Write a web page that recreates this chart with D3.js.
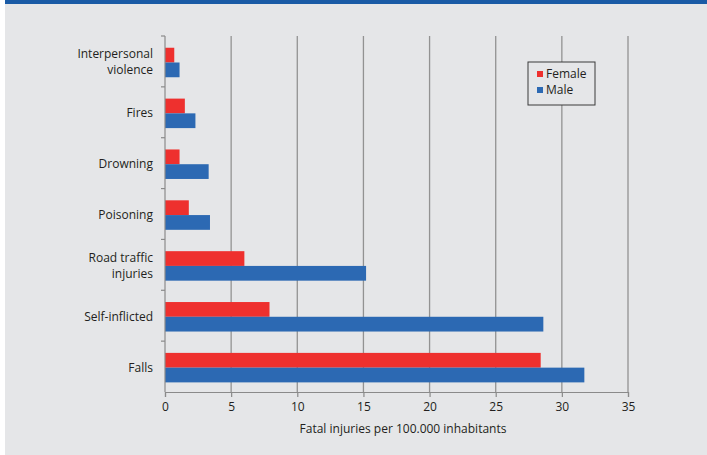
<!DOCTYPE html>
<html>
<head>
<meta charset="utf-8">
<script src="https://cdn.jsdelivr.net/npm/d3@7"></script>
<style>
  body { margin: 0; background: #fff; }
  svg { display: block; font-family: "Open Sans", "DejaVu Sans", sans-serif; }
</style>
</head>
<body>
<div id="chart"></div>
<script>
// categories, top to bottom
const categories = ["Interpersonal violence", "Fires", "Drowning", "Poisoning", "Road traffic injuries", "Self-inflicted", "Falls"]
const labelLines = [["Interpersonal", "violence"], ["Fires"], ["Drowning"], ["Poisoning"], ["Road traffic", "injuries"], ["Self-inflicted"], ["Falls"]]
const female = [0.7, 1.5, 1.1, 1.8, 6.0, 7.9, 28.4]
const male = [1.1, 2.3, 3.3, 3.4, 15.2, 28.6, 31.7]
const series = ["Female", "Male"]
const xTicks = [0, 5, 10, 15, 20, 25, 30, 35]

const colors = { Female: "#ee302e", Male: "#2c69b3" }

const width = 707, height = 455
const margin = { top: 36, right: 79, bottom: 63, left: 165 }

let svg = d3.select("#chart").append("svg")
  .attr("width", width)
  .attr("height", height)

// background panel and top banner
svg.append("rect").attr("x", 5).attr("y", 0).attr("width", width - 5).attr("height", height).attr("fill", "#e5e6e8")
svg.append("rect").attr("x", 5).attr("y", 0).attr("width", width - 5).attr("height", 4).attr("fill", "#1a5ba6")

let x = d3.scaleLinear().domain([0, 35]).range([margin.left, width - margin.right])
let y = d3.scaleBand().domain(categories).range([margin.top, height - margin.bottom])
  .paddingInner(0.42).paddingOuter(0.21).align(0.55)
let sub = d3.scaleBand().domain(series).range([0, y.bandwidth()])

// vertical gridlines
svg.append("g").selectAll("line")
  .data(xTicks.slice(1))
  .enter().append("line")
  .attr("x1", d => x(d)).attr("x2", d => x(d))
  .attr("y1", margin.top).attr("y2", height - margin.bottom)
  .attr("stroke", "#929292").attr("stroke-width", 1.3)

// bars
let rows = categories.map((c, i) => ({ cat: c, Female: female[i], Male: male[i] }))
let g = svg.append("g")
rows.forEach(r => {
  series.forEach(s => {
    g.append("rect")
      .attr("x", x(0))
      .attr("y", y(r.cat) + sub(s))
      .attr("width", x(r[s]) - x(0))
      .attr("height", sub.bandwidth())
      .attr("fill", colors[s])
  })
})

// x axis
let xAxis = svg.append("g")
  .attr("transform", "translate(0," + (height - margin.bottom) + ")")
  .call(d3.axisBottom(x).tickValues(xTicks).tickSize(5).tickPadding(5))
xAxis.select(".domain").attr("stroke", "#8a8a8a").attr("stroke-width", 1.2)
xAxis.selectAll(".tick line").attr("stroke", "#8a8a8a").attr("stroke-width", 1.2)
xAxis.selectAll("text").attr("font-size", 12).attr("fill", "#231f20").attr("font-family", "Open Sans, DejaVu Sans, sans-serif")

// y axis line and category boundary ticks
svg.append("line")
  .attr("x1", x(0)).attr("x2", x(0))
  .attr("y1", margin.top).attr("y2", height - margin.bottom)
  .attr("stroke", "#8a8a8a").attr("stroke-width", 1.2)
let step = (height - margin.bottom - margin.top) / categories.length
svg.append("g").selectAll("line")
  .data(d3.range(categories.length))
  .enter().append("line")
  .attr("x1", x(0) - 4).attr("x2", x(0))
  .attr("y1", i => margin.top + i * step)
  .attr("y2", i => margin.top + i * step)
  .attr("stroke", "#8a8a8a").attr("stroke-width", 1.2)

// category labels
categories.forEach((c, i) => {
  let lines = labelLines[i]
  let cy = y(c) + y.bandwidth() / 2
  let t = svg.append("text")
    .attr("text-anchor", "end")
    .attr("font-size", 12)
    .attr("fill", "#231f20")
  lines.forEach((l, j) => {
    t.append("tspan")
      .attr("x", 153)
      .attr("y", cy + 4 + (j - (lines.length - 1) / 2) * 16)
      .text(l)
  })
})

// axis title
svg.append("text")
  .attr("x", 403).attr("y", 433)
  .attr("text-anchor", "middle")
  .attr("font-size", 12)
  .attr("fill", "#231f20")
  .text("Fatal injuries per 100.000 inhabitants")

// legend
let legend = svg.append("g").attr("transform", "translate(528,62)")
legend.append("rect").attr("width", 67).attr("height", 43).attr("fill", "#e5e6e8").attr("stroke", "#3a3a3a").attr("stroke-width", 1)
series.forEach((s, i) => {
  legend.append("rect").attr("x", 9).attr("y", 9 + i * 16).attr("width", 6).attr("height", 6).attr("fill", colors[s])
  legend.append("text").attr("x", 18).attr("y", 16 + i * 16).attr("font-size", 12).attr("fill", "#231f20").text(s)
})
</script>
</body>
</html>
